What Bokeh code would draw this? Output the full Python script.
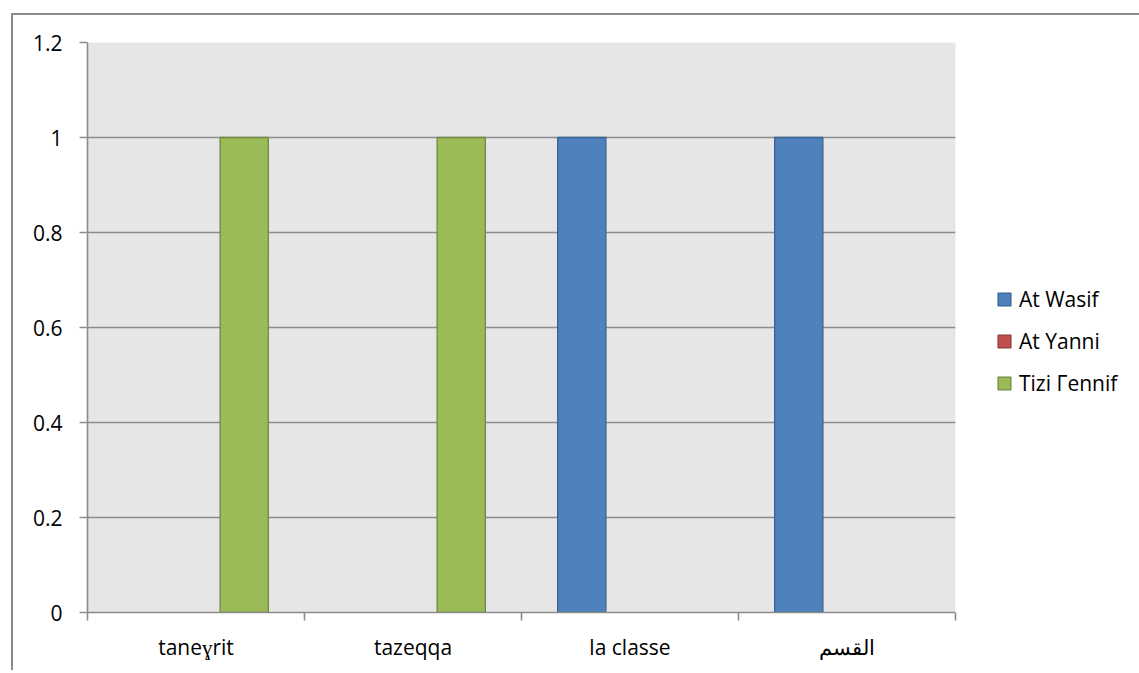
from bokeh.plotting import figure
from bokeh.models import FixedTicker, Legend, LegendItem, Range1d, ColumnDataSource, CDSView, BooleanFilter
from bokeh.embed import file_html
from bokeh.resources import INLINE

categories = ["taneɣrit", "tazeqqa", "la classe", "القسم"]
series_names = ["At Wasif", "At Yanni", "Tizi Γennif"]
at_wasif = [0, 0, 1, 1]
at_yanni = [0, 0, 0, 0]
tizi_gennif = [1, 1, 0, 0]
y_ticks = [0, 0.2, 0.4, 0.6, 0.8, 1, 1.2]
y_tick_labels = ["0", "0.2", "0.4", "0.6", "0.8", "1", "1.2"]

fills = ["#4F81BD", "#C0504D", "#9BBB59"]
lines = ["#3A6291", "#8E3B39", "#71893F"]
FONT = "Open Sans"
FS = "21px"

p = figure(width=1120, height=655, output_backend="svg", toolbar_location=None,
           x_range=Range1d(0, 4), y_range=Range1d(0, 1.2),
           frame_width=868, frame_height=570,
           min_border_left=74, min_border_top=27, min_border_right=178, min_border_bottom=58)
p.margin = (13, 0, 0, 11)
p.styles = {"border-left": "2px solid #8a8a8a", "border-top": "2px solid #8a8a8a"}
p.background_fill_color = "#E6E6E6"
p.border_fill_color = "white"
p.outline_line_color = None

bw = 1 / 4.5
items = []
for k, (name, vals) in enumerate(zip(series_names, [at_wasif, at_yanni, tizi_gennif])):
    src = ColumnDataSource(dict(x=[i + 0.5 + (k - 1) * bw for i in range(len(vals))], top=vals))
    view = CDSView(filter=BooleanFilter([v != 0 for v in vals]))
    p.vbar(x="x", top="top", width=bw, source=src, view=view,
           fill_color=fills[k], line_color=lines[k], line_width=1.3)
    # legend swatch proxy (not drawn in the plot)
    proxy = p.vbar(x="x", top="top", width=bw, source=src,
                   fill_color=fills[k], line_color=lines[k], line_width=1.3, visible=False)
    items.append(LegendItem(label=name, renderers=[proxy]))

# grid
p.xgrid.visible = False
p.ygrid.ticker = FixedTicker(ticks=y_ticks)
p.ygrid.grid_line_color = "#8C8C8C"
p.ygrid.grid_line_width = 1.6

# y axis
p.yaxis.ticker = FixedTicker(ticks=y_ticks)
p.yaxis.major_label_overrides = {t: l for t, l in zip(y_ticks, y_tick_labels)}
p.yaxis.axis_line_color = "#8C8C8C"
p.yaxis.axis_line_width = 1.6
p.yaxis.major_tick_line_color = "#8C8C8C"
p.yaxis.major_tick_line_width = 1.6
p.yaxis.major_tick_in = 0
p.yaxis.major_tick_out = 8
p.yaxis.minor_tick_line_color = None
p.yaxis.major_label_standoff = 17
p.yaxis.major_label_text_font = FONT
p.yaxis.major_label_text_font_size = FS
p.yaxis.major_label_text_color = "black"

# x axis
cat_pos = [i + 0.5 for i in range(len(categories))]
p.xaxis.ticker = FixedTicker(ticks=cat_pos, minor_ticks=list(range(len(categories) + 1)))
p.xaxis.major_label_overrides = {t: c for t, c in zip(cat_pos, categories)}
p.xaxis.axis_line_color = "#8C8C8C"
p.xaxis.axis_line_width = 1.6
p.xaxis.major_tick_line_color = None
p.xaxis.minor_tick_line_color = "#8C8C8C"
p.xaxis.minor_tick_line_width = 1.6
p.xaxis.minor_tick_in = 0
p.xaxis.minor_tick_out = 8
p.xaxis.major_label_standoff = 12
p.xaxis.major_label_text_font = FONT
p.xaxis.major_label_text_font_size = FS
p.xaxis.major_label_text_color = "black"

legend = Legend(items=items, location=(41, 215), orientation="vertical",
                glyph_width=16, glyph_height=16, label_height=20, spacing=14,
                label_standoff=7, padding=0, margin=0,
                border_line_color=None, background_fill_alpha=0,
                inactive_fill_alpha=0,
                label_text_font=FONT, label_text_font_size=FS, label_text_color="black")
p.add_layout(legend, "right")

open("out.html", "w").write(file_html(p, INLINE))
